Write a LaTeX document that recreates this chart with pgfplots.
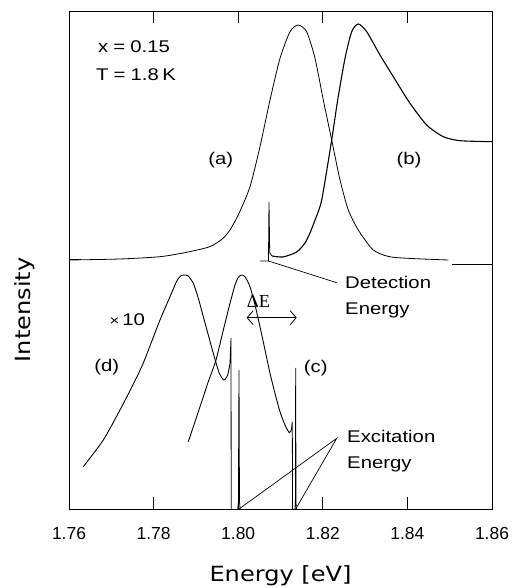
\documentclass[border=0pt]{standalone}
\usepackage{fontspec}
\setmainfont{Liberation Sans}
\newfontfamily\labfont[FakeStretch=1.15]{DejaVu Sans}
\newfontfamily\annfont[FakeStretch=1.2]{Liberation Sans}
\newfontfamily\serfont{Liberation Serif}
\usepackage{pgfplots}
\pgfplotsset{compat=1.18}
\usetikzlibrary{arrows.meta}
\begin{document}
\begin{tikzpicture}
\begin{axis}[
  scale only axis, width=423bp, height=498bp,
  xmin=1.76, xmax=1.86, ymin=0, ymax=498,
  xtick={1.76,1.78,1.80,1.82,1.84,1.86},
  xticklabels={1.76,1.78,1.80,1.82,1.84,1.86},
  ytick={250}, yticklabels={},
  xtick pos=both, ytick pos=left,
  tick align=inside,
  major tick length=12bp,
  tick style={black, line width=0.9pt},
  axis line style={line width=0.9pt},
  xticklabel style={font=\fontsize{17.5}{20}\selectfont, anchor=base, yshift=-30bp},
  clip=false,
  cycle list={{black, solid, line width=0.8pt, mark=none}},
  xlabel={Energy [eV]}, ylabel={Intensity},
  xlabel style={font=\labfont\fontsize{21}{24}\selectfont, at={(axis description cs:0.5,-0.1446)}, anchor=base},
  ylabel style={font=\labfont\fontsize{21}{24}\selectfont, at={(axis description cs:-0.104,0.40)}, anchor=center},
]
% (a)
\addplot[black, line width=0.8pt, smooth, tension=0.4] coordinates {
(1.76000,249) (1.77206,250) (1.78151,252.3) (1.78783,256.7) (1.79330,262.3)
(1.79622,270) (1.79806,279) (1.80019,295.7) (1.80279,322.3) (1.80515,362.3)
(1.80752,409) (1.80988,450.7) (1.81225,477.3) (1.81418,484) (1.81619,477.3)
(1.81816,450.7) (1.82012,409) (1.82210,369) (1.82407,329) (1.82603,299)
(1.82839,279) (1.83194,259) (1.83667,251.7) (1.84970,249)};
% (b) detection spike
\addplot[black, line width=0.8pt, sharp plot] coordinates {
(1.80515,248) (1.80716,248) (1.80728,307) (1.80745,256) (1.80800,253)};
% (b)
\addplot[black, line width=1.1pt, smooth, tension=0.4] coordinates {
(1.80800,253) (1.81059,252) (1.81383,257) (1.81579,266) (1.81697,276)
(1.81816,289) (1.81974,309) (1.82210,369) (1.82352,409) (1.82525,450.7)
(1.82683,477.3) (1.82839,485) (1.83038,477.3) (1.83352,454) (1.83667,432.3)
(1.84061,405.7) (1.84456,384) (1.84849,372.3) (1.85243,368.3) (1.86000,367.3)};
% right baseline segment
\addplot[black, line width=0.8pt, sharp plot] coordinates {(1.8505,245) (1.8600,245)};
% (d)
\addplot[black, line width=0.9pt, smooth, tension=0.4] coordinates {
(1.76338,42.3) (1.76811,69) (1.77246,102.3) (1.77719,142.3) (1.78151,189)
(1.78388,212.3) (1.78560,229) (1.78664,233.7) (1.78742,234) (1.78820,233)
(1.78939,225.7) (1.79057,210.7) (1.79175,192.3) (1.79293,174) (1.79411,155.7)
(1.79553,135.7) (1.79664,129) (1.79752,134) (1.79806,145.7)};
\addplot[black, line width=0.8pt, sharp plot] coordinates {(1.79806,145.7) (1.79830,171) (1.79835,0)};
% (c)
\addplot[black, line width=0.9pt, smooth, tension=0.4] coordinates {
(1.78820,67.3) (1.78979,87.3) (1.79137,107.3) (1.79293,127.3) (1.79475,149)
(1.79648,179) (1.79806,205.7) (1.79924,224) (1.80002,231.7) (1.80083,234)
(1.80161,232.3) (1.80279,222.3) (1.80397,204) (1.80515,182.3) (1.80634,159)
(1.80752,135.7) (1.80870,115.7) (1.80988,97.3) (1.81106,84) (1.81208,76.3)
(1.81255,79)};
\addplot[black, line width=0.8pt, sharp plot] coordinates {(1.81255,79) (1.81279,87.3) (1.81285,0)};
% laser lines
\addplot[black, line width=0.8pt, sharp plot] coordinates {(1.79990,0) (1.80005,8) (1.80019,139) (1.80030,8) (1.80045,0)};
\addplot[black, line width=0.8pt, sharp plot] coordinates {(1.81340,0) (1.81352,6) (1.81359,141) (1.81366,6) (1.81378,0)};
% tick marks (inward), drawn explicitly
\pgfplotsinvokeforeach{1.78,1.80,1.82,1.84}{
  \draw[line width=0.9pt] (axis cs:#1,0) -- (axis cs:#1,12);
  \draw[line width=0.9pt] (axis cs:#1,498) -- (axis cs:#1,486);
}
\draw[line width=0.9pt] (axis cs:1.76,250) -- (axis cs:1.76284,250);
% annotations
\draw[line width=0.7pt] (axis cs:1.80716,248) -- (axis cs:1.82329,226.3);
\draw[line width=0.7pt] (axis cs:1.80019,0) -- (axis cs:1.82329,70.7) -- (axis cs:1.81359,0);
\draw[line width=0.8pt, {Straight Barb[length=6bp,width=14bp]}-{Straight Barb[length=6bp,width=14bp]}]
  (axis cs:1.8020,191.3) -- (axis cs:1.81383,191.3);
\node[inner sep=0, font=\serfont\fontsize{18.5}{20}\selectfont] at (axis cs:1.80480,208) {ΔE};
\begin{scope}[every node/.style={inner sep=0, font=\annfont\fontsize{17}{20}\selectfont}]
\node[anchor=base west] at (axis cs:1.76686,456.3) {x\hspace{0.3em}=\hspace{0.3em}0.15};
\node[anchor=base west] at (axis cs:1.76638,428.3) {T\hspace{0.3em}=\hspace{0.3em}1.8\hspace{0.2em}K};
\node at (axis cs:1.79586,349) {(a)};
\node at (axis cs:1.84038,349) {(b)};
\node at (axis cs:1.81834,141.3) {(c)};
\node at (axis cs:1.76891,141.7) {(d)};
\node at (axis cs:1.77379,189) {{\fontsize{14}{14}\selectfont ×}\,10};
\node[anchor=base west] at (axis cs:1.82525,220) {Detection};
\node[anchor=base west] at (axis cs:1.82525,194) {Energy};
\node[anchor=base west] at (axis cs:1.82572,67) {Excitation};
\node[anchor=base west] at (axis cs:1.82572,41) {Energy};
\end{scope}
\end{axis}
\pgfresetboundingbox
\useasboundingbox (-69bp,-79bp) rectangle (446bp,509bp);
\end{tikzpicture}
\end{document}
